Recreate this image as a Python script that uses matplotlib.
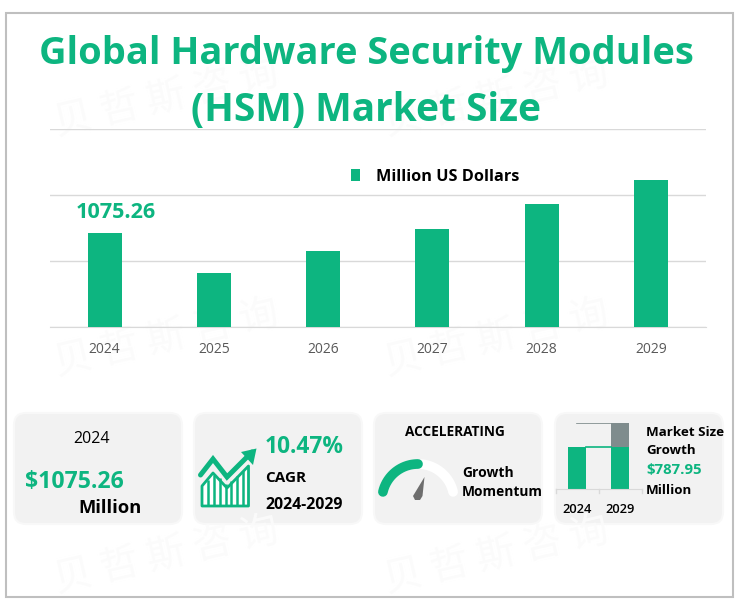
import numpy as np
import matplotlib
matplotlib.use("Agg")
import matplotlib.pyplot as plt
from matplotlib.patches import FancyBboxPatch, Polygon, Rectangle

# values (2024 is labelled, the rest)
years = ["2024", "2025", "2026", "2027", "2028", "2029"]
market_size = [1075.26, 618, 870, 1121, 1407, 1682]
mini_years = ["2024", "2029"]
mini_base = [1075.26, 1075.26]
mini_growth = [0, 610]

GREEN, GREY, INK = "#0db580", "#7f8c8d", "#000000"
CARD, GRID, TICK = "#f2f2f2", "#d9d9d9", "#595959"
plt.rcParams["font.family"] = ["Open Sans", "DejaVu Sans"]

W, H = 742, 613
fig = plt.figure(figsize=(W / 100, H / 100), dpi=100, facecolor="white")


def px_axes(x0, y0, x1, y1, **kw):
    # axes placed by pixel box, y measured from the top of the picture
    return fig.add_axes([x0 / W, 1 - y1 / H, (x1 - x0) / W, (y1 - y0) / H], **kw)


# ---- background layer in pixel coordinates ----
bg = fig.add_axes([0, 0, 1, 1])
bg.set_xlim(0, W)
bg.set_ylim(H, 0)
bg.axis("off")
bg.add_patch(Rectangle((5.5, 13), 727, 584, fc="white", ec="#bfbfbf", lw=1.5))

# very faint tiled watermark behind everything
for wx in (55, 385):
    for wy in (125, 365, 582):
        bg.text(wx, wy, "贝 哲 斯 咨 询", rotation=13, rotation_mode="anchor", ha="left", va="center",
                fontsize=28, color="#fbfbfb", family=["Noto Sans CJK SC", "DejaVu Sans"])

for x0 in (14, 194, 374, 555):
    bg.add_patch(FancyBboxPatch((x0 + 10, 423), 148, 91, boxstyle="round,pad=10,rounding_size=12",
                                fc=CARD, ec="#f8f8f8", lw=1.5))

bg.text(366, 54, "Global Hardware Security Modules", ha="center", va="center",
        fontsize=27.4, fontweight="bold", color=GREEN)
bg.text(366, 111, "(HSM) Market Size", ha="center", va="center",
        fontsize=28, fontweight="bold", color=GREEN)

# ---- main bars ----
ax = px_axes(50, 129.5, 705.5, 327)
ax.set_zorder(2)
ax.patch.set_alpha(0)
xs = np.arange(len(years))
ax.bar(xs, market_size, 0.31, color=GREEN, label="Million US Dollars", zorder=3)
ax.set_xlim(-0.5, 5.5)
ax.set_ylim(0, 2265)
ax.set_yticks([0, 755, 1510, 2265])
ax.set_yticklabels([])
ax.set_xticks(xs, years)
ax.grid(axis="y", color=GRID, lw=1)
ax.set_axisbelow(True)
ax.tick_params(length=0, labelsize=10, labelcolor=TICK, pad=11)
for s in ("top", "right", "left"):
    ax.spines[s].set_visible(False)
ax.spines["bottom"].set_color(GRID)
ax.text(xs[0] + 0.1, market_size[0] + 240, f"{market_size[0]:.2f}", ha="center", va="center",
        fontsize=15.6, fontweight="bold", color=GREEN)
leg = ax.legend(loc="center left", bbox_to_anchor=(0.437, 0.76), frameon=False,
                handlelength=0.5, handleheight=0.7, handletextpad=1.0, fontsize=12)
leg.get_texts()[0].set_fontweight("bold")
leg.get_texts()[0].set_fontsize(11.7)

# ---- card 1: base year ----
bg.text(92, 439, "2024", ha="center", va="center", fontsize=11.5, color=INK)
bg.text(74, 482, "$1075.26", ha="center", va="center", fontsize=16.6, fontweight="bold", color=GREEN)
bg.text(110, 508, "Million", ha="center", va="center", fontsize=13.2, fontweight="bold", color=INK)

# ---- card 2: CAGR with icon ----
bg.plot([200.5, 213, 227, 252], [475, 459, 477, 452], color=GREEN, lw=3.6,
        solid_joinstyle="miter", solid_capstyle="round")
bg.add_patch(Polygon([[256.5, 448.5], [241, 452], [253, 465]], fc=GREEN, ec="none"))
bg.add_patch(Polygon([[202, 506], [248.5, 506], [248.5, 466], [227, 488], [213, 473], [202, 486]],
                     fc="white", ec=GREEN, lw=2, joinstyle="round"))
bar_x = np.linspace(208, 243, 7)
bar_top = [480, 475, 478, 484, 481, 476, 471]
bg.vlines(bar_x, bar_top, 506, color=GREEN, lw=1.8)
bg.text(265, 447, "10.47%", ha="left", va="center", fontsize=16.4, fontweight="bold", color=GREEN)
bg.text(265, 478, "CAGR", ha="left", va="center", fontsize=11, fontweight="bold", color=INK)
bg.text(265, 505, "2024-2029", ha="left", va="center", fontsize=11.4, fontweight="bold", color=INK)

# ---- card 3: gauge ----
cx, cy, r = 418, 500, 36
t_full = np.radians(np.linspace(167, 13, 60))
t_green = np.radians(np.linspace(167, 90, 40))
bg.plot(cx + r * np.cos(t_full), cy - r * np.sin(t_full), color="white", lw=7,
        solid_capstyle="round")
bg.plot(cx + r * np.cos(t_green), cy - r * np.sin(t_green), color=GREEN, lw=7,
        solid_capstyle="round")
bg.add_patch(Polygon([[424.5, 477], [413, 496], [415, 500], [420, 500], [422.5, 496]],
                     fc="#6e6e6e", ec="none"))
bg.text(455, 432, "ACCELERATING", ha="center", va="center", fontsize=9.8, fontweight="bold", color=INK)
bg.text(462, 473, "Growth", ha="left", va="center", fontsize=10, fontweight="bold", color=INK)
bg.text(462, 492, "Momentum", ha="left", va="center", fontsize=9.9, fontweight="bold", color=INK)

# ---- card 4: mini stacked bars ----
mini = px_axes(555.5, 423, 642, 489)
mini.set_zorder(2)
mini.patch.set_alpha(0)
mx = np.arange(2)
bw = 0.42
mini.bar(mx, mini_base, bw, color=GREEN)
mini.bar(mx, mini_growth, bw, bottom=mini_base, color=GREY)
mini.set_xlim(-0.5, 1.5)
mini.set_ylim(0, 1685)
mini.plot([mx[0] + bw / 2, mx[1] - bw / 2], [mini_base[0]] * 2, color=GREEN, lw=1.2)
mini.plot([mx[0], mx[1] - bw / 2], [mini_base[1] + mini_growth[1]] * 2, color=GREY, lw=1.2)
mini.set_xticks(mx, mini_years, fontweight="semibold")
mini.set_yticks([])
mini.tick_params(axis="x", length=0, labelsize=9.3, labelcolor=INK, pad=10)
for s in ("top", "right", "left"):
    mini.spines[s].set_visible(False)
mini.spines["bottom"].set_color(GRID)
for x in (-0.5, 0.5, 1.5):
    mini.plot([x, x], [0, -100], color=GRID, lw=1, clip_on=False)
bg.text(646, 432, "Market Size", ha="left", va="center", fontsize=9.6, fontweight="bold", color=INK)
bg.text(646, 451, "Growth", ha="left", va="center", fontsize=9.6, fontweight="bold", color=INK)
bg.text(646, 470, "$787.95", ha="left", va="center", fontsize=10.8, fontweight="bold", color=GREEN)
bg.text(646, 491, "Million", ha="left", va="center", fontsize=9.6, fontweight="bold", color=INK)

fig.savefig("out.png", dpi=100, facecolor="white")
